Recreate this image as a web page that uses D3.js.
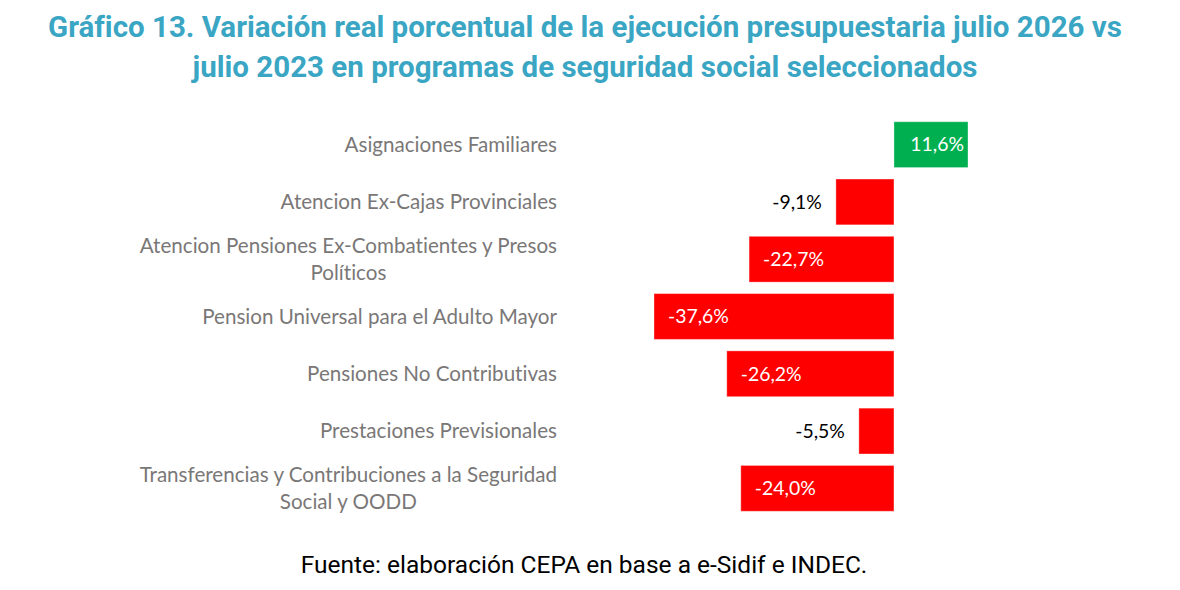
<!DOCTYPE html>
<html>
    <head>
        <script src="https://cdnjs.cloudflare.com/ajax/libs/d3/7.8.5/d3.min.js"></script>
        <title>Grafico 13</title>
        <style>
            html, body {
                height: 100%;
                margin: 0;
                background: #fff;
            }
            .svg_canvas {
                display: block;
            }
            text {
                font-variant-ligatures: none;
            }
        </style>
    </head>
    <body>
        <svg height="590" width="1180" class="svg_canvas"></svg>

        <script>
            // categorias (cada una en lineas) y variacion real %
            var categories = [
                ["Asignaciones Familiares"],
                ["Atencion Ex-Cajas Provinciales"],
                ["Atencion Pensiones Ex-Combatientes y Presos", "Políticos"],
                ["Pension Universal para el Adulto Mayor"],
                ["Pensiones No Contributivas"],
                ["Prestaciones Previsionales"],
                ["Transferencias y Contribuciones a la Seguridad", "Social y OODD"]
            ];
            var values = [11.6, -9.1, -22.7, -37.6, -26.2, -5.5, -24.0];
            var titleLines = [
                "Gráfico 13. Variación real porcentual de la ejecución presupuestaria julio 2026 vs",
                "julio 2023 en programas de seguridad social seleccionados"
            ];
            var source = "Fuente: elaboración CEPA en base a e-Sidif e INDEC.";

            var svg = d3.select(".svg_canvas");

            var x = d3.scaleLinear()
                .domain([-37.6, 11.6])
                .range([654, 968]);

            var y = d3.scaleBand()
                .domain(d3.range(values.length))
                .range([116, 517])
                .paddingInner(0.2)
                .paddingOuter(0.1);

            var fmt = function(v) {
                return v.toFixed(1).replace(".", ",") + "%";
            };

            // titulo
            svg.append("g")
                .selectAll("text")
                .data(titleLines)
                .enter()
                .append("text")
                .attr("x", 585)
                .attr("y", function(d, i){ return 37 + i * 40; })
                .attr("text-anchor", "middle")
                .style("font-family", "Roboto")
                .style("font-weight", "bold")
                .style("font-size", "29.5px")
                .style("fill", "#3AA6C4")
                .text(function(d){ return d; });

            // barras
            svg.append("g")
                .selectAll("rect")
                .data(values)
                .enter()
                .append("rect")
                .attr("x", function(d){ return x(Math.min(0, d)); })
                .attr("y", function(d, i){ return y(i); })
                .attr("width", function(d){ return Math.abs(x(d) - x(0)); })
                .attr("height", y.bandwidth())
                .style("fill", function(d){ return d > 0 ? "#00B050" : "#FF0000"; })
                .style("stroke", "#ffffff")
                .style("stroke-opacity", 0.35)
                .style("stroke-width", 1);

            // etiquetas de valores
            svg.append("g")
                .selectAll("text")
                .data(values)
                .enter()
                .append("text")
                .attr("x", function(d){
                    if (d > 0) return x(d) - 4;
                    if (d > -10) return x(d) - 14;
                    return x(d) + 14;
                })
                .attr("y", function(d, i){ return y(i) + y.bandwidth() / 2; })
                .attr("dy", "0.35em")
                .attr("text-anchor", function(d){ return (d > 0 || d > -10) ? "end" : "start"; })
                .style("font-family", "Lato")
                .style("font-size", "19.4px")
                .style("fill", function(d){ return (d < 0 && d > -10) ? "#000000" : "#ffffff"; })
                .text(fmt);

            // etiquetas de categorias (bloque alineado a la derecha, lineas centradas)
            var labelRight = 557;
            var catG = svg.append("g");
            categories.forEach(function(lines, i) {
                var cy = y(i) + y.bandwidth() / 2;
                var t = catG.append("text")
                    .style("font-family", "Lato")
                    .style("font-size", "20.6px")
                    .style("fill", "#7a7777")
                    .attr("text-anchor", "middle");
                var spans = lines.map(function(line, j) {
                    return t.append("tspan")
                        .attr("x", 0)
                        .attr("y", cy + (j - (lines.length - 1) / 2) * 27)
                        .attr("dy", "0.35em")
                        .text(line);
                });
                var w = d3.max(spans, function(s){ return s.node().getComputedTextLength(); });
                spans.forEach(function(s){ s.attr("x", labelRight - w / 2); });
            });

            // fuente
            svg.append("text")
                .attr("x", 584)
                .attr("y", 573)
                .attr("text-anchor", "middle")
                .style("font-family", "Roboto")
                .style("font-size", "24.5px")
                .style("fill", "#000000")
                .text(source);
        </script>
    </body>
</html>
